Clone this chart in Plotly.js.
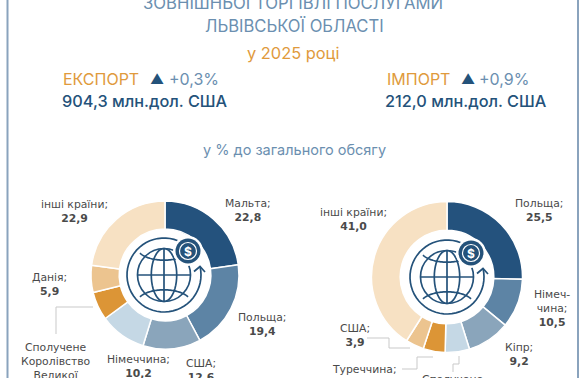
<!DOCTYPE html>
<html><head><meta charset="utf-8">
<script src="https://cdn.plot.ly/plotly-3.0.1.min.js"></script>
<style>html,body{margin:0;padding:0;background:#fff;overflow:hidden}#c{width:580px;height:378px}</style>
</head><body><div id="c"></div>
<script>
const exportCountries=["Мальта","Польща","США","Німеччина","Сполучене Королівство","Данія","інші країни"];
const exportValues=[22.8,19.4,12.6,10.2,6.2,5.9,22.9];
const importCountries=["Польща","Німеччина","Кіпр","Сполучене Королівство","Туреччина","США","інші країни"];
const importValues=[25.5,10.5,9.2,5.2,4.7,3.9,41.0];
const sliceColors=["#24527d","#5d84a5","#8aa5bb","#c5d8e5","#dc9536","#ecc48f","#f7e1c3"];
const headFont="Inter, 'Open Sans', sans-serif";
const labelFont="'DejaVu Sans', sans-serif";
const W=580,H=378;
const navy="#24527a",blue="#6b8fb0",orange="#e09a3c",grey="#4a4a4a";

function domain(cx,cy,r){return {x:[(cx-r)/W,(cx+r)/W],y:[1-(cy+r)/H,1-(cy-r)/H]};}
function pie(labels,values,d){return {type:'pie',labels,values,domain:d,hole:0.62,sort:false,direction:'clockwise',rotation:0,
 textinfo:'none',hoverinfo:'label+value',marker:{colors:sliceColors,line:{color:'#fff',width:1.5}},showlegend:false};}

const ann=[];
function txt(x,y,text,size,color,opts){const o=opts||{};ann.push({xref:'x',yref:'y',x,y,text,showarrow:false,align:'center',xanchor:o.xanchor||'center',yanchor:o.yanchor||'middle',
 font:{family:o.family||headFont,size,color,weight:o.weight||400}});}
const L={xanchor:'left'};
const LM={xanchor:'left',weight:500};
txt(293,3,"ЗОВНІШНЬОЇ ТОРГІВЛІ ПОСЛУГАМИ",16.7,blue);
txt(294,26,"ЛЬВІВСЬКОЇ ОБЛАСТІ",16.6,blue);
txt(293,53,"у 2025 році",16.4,orange);
txt(61,79,"ЕКСПОРТ",16,orange,L);
txt(148,78,"▲",14,navy,L);
txt(167,79,"+0,3%",16,blue,L);
txt(60,101,"904,3 млн.дол. США",16.3,navy,LM);
txt(385,79,"ІМПОРТ",16,orange,L);
txt(459,78,"▲",14,navy,L);
txt(477,79,"+0,9%",16,blue,L);
txt(383,101,"212,0 млн.дол. США",16.3,navy,LM);
txt(294,149,"у % до загального обсягу",14.5,blue);

const lf={family:labelFont};
function lab(x,y,text,val){txt(x,y,text+"<br><b>"+val+"</b>",10.8,grey,lf);}
lab(248,210,"Мальта;","22,8");
lab(262,324,"Польща;","19,4");
lab(201,370,"США;","12,6");
lab(138,366,"Німеччина;","10,2");
lab(49,284,"Данія;","5,9");
lab(74,211,"інші країни;","22,9");
txt(56,339,"Сполучене<br>Королівство<br>Великої",10.8,grey,{yanchor:'top',family:labelFont});
lab(539,210,"Польща;","25,5");
lab(552,308,"Німеч-<br>чина;","10,5");
lab(519,354,"Кіпр;","9,2");
lab(355,335,"США;","3,9");
lab(353,219,"інші країни;","41,0");
txt(364,361,"Туреччина;<br><b>4,7</b>",10.8,grey,{yanchor:'top',family:labelFont});
txt(453,371,"Сполучене",10.8,grey,{yanchor:'top',family:labelFont});

const shapes=[];
function P(d,color,w,fill){shapes.push({type:'path',xref:'x',yref:'y',path:d,layer:'above',line:{color,width:w},fillcolor:fill||'rgba(0,0,0,0)'});}
function C(x,y,r,line,w,fill){shapes.push({type:'circle',xref:'x',yref:'y',x0:x-r,x1:x+r,y0:y-r,y1:y+r,layer:'above',line:{color:line,width:w},fillcolor:fill||'rgba(0,0,0,0)'});}
function arc(cx,cy,rx,ry,a0,a1){let d='';const n=48;for(let i=0;i<=n;i++){const a=(a0+(a1-a0)*i/n)*Math.PI/180;d+=(i?'L':'M')+(cx+rx*Math.cos(a)).toFixed(2)+','+(cy-ry*Math.sin(a)).toFixed(2);}return d;}
function icon(cx,cy){
 const R=26.5,r2=37,c=navy;
 C(cx,cy,R,c,1.7);
 P(arc(cx,cy,R*0.48,R,0,360),c,1.7);
 P(`M${cx},${cy-R}L${cx},${cy+R}`,c,1.7);
 P(`M${cx-R},${cy}L${cx+R},${cy}`,c,1.7);
 P(arc(cx,cy-R*1.02,R*1.0,R*0.46,205,335),c,1.7);
 P(arc(cx,cy+R*1.02,R*1.0,R*0.46,25,155),c,1.7);
 P(arc(cx,cy,r2,r2,68,373),c,1.7);
 C(cx+24,cy-24,15,'#fff',0,'#fff');
 C(cx+24,cy-24,12.5,c,0,c);
 C(cx+24,cy-24,8.5,'#fff',1.2);
 P(`M${cx+30},${cy-3.5}L${cx+36},${cy-8.5}L${cx+41},${cy-3}`,c,1.7);
 txt(cx+24,cy-24,"<b>$</b>",12,'#fff');
}
icon(164,275);
icon(447,277);
const leader="#c9c9c9";
P("M93,307L56,307L56,334",leader,1);
P("M367,338L389,338L389,348L410,348",leader,1);
P("M402,369L417,369L417,357L433,357",leader,1);
P("M459,356L459,364L453,364L453,372",leader,1);
const frame="#8aa3bd";
[7.5,578].forEach(x=>shapes.push({type:'line',xref:'x',yref:'y',x0:x,x1:x,y0:0,y1:H,layer:'above',line:{color:frame,width:2}}));

Plotly.newPlot('c',[pie(exportCountries,exportValues,domain(165,275,74)),pie(importCountries,importValues,domain(447,277,75.5))],{
 width:W,height:H,margin:{l:0,r:0,t:0,b:0},paper_bgcolor:'#fff',plot_bgcolor:'rgba(0,0,0,0)',showlegend:false,
 xaxis:{range:[0,W],visible:false,fixedrange:true},yaxis:{range:[H,0],visible:false,fixedrange:true},
 annotations:ann,shapes:shapes},{displayModeBar:false,staticPlot:true});
</script></body></html>
